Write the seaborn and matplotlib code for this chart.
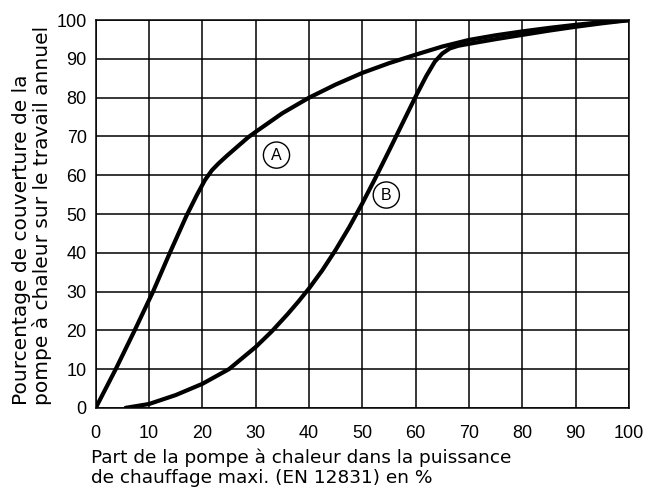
import matplotlib
matplotlib.use("Agg")
import matplotlib.pyplot as plt
import seaborn as sns
import pandas as pd

# curve A
A_X = [0, 3.75, 7.3, 10.75, 13.9, 17, 19, 20.5, 21.8, 23, 24.5, 26.5, 28.6, 30, 35, 40, 45, 50, 55, 60, 65, 70, 75, 80, 85, 90, 95, 100]
A_Y = [0, 10, 20, 30, 40, 49.5, 55, 58.8, 61.3, 63, 64.9, 67.3, 69.8, 71.2, 76, 80, 83.4, 86.4, 88.9, 91.1, 93.2, 94.9, 96.1, 97.1, 98, 98.8, 99.5, 100]

# curve B
B_X = [5.6, 10, 15, 20, 25, 30, 33, 36, 38, 40, 42.5, 45, 47.5, 50, 52.5, 55, 57.5, 60, 62, 63.6, 65, 66.4, 68, 70, 75, 80, 85, 90, 95, 100]
B_Y = [0, 1, 3.3, 6.2, 10, 15.7, 19.7, 24.2, 27.4, 30.8, 35.5, 40.75, 46.5, 52.75, 59.4, 66.3, 73.3, 80.3, 85.6, 89.3, 91.4, 92.7, 93.4, 93.9, 95.1, 96.2, 97.3, 98.3, 99.2, 100]

TICKS = list(range(0, 101, 10))
YLABEL = "Pourcentage de couverture de la\npompe à chaleur sur le travail annuel"
XLABEL = "Part de la pompe à chaleur dans la puissance\nde chauffage maxi. (EN 12831) en %"

df = pd.concat([
  pd.DataFrame({"x": A_X, "y": A_Y, "curve": "A"}),
  pd.DataFrame({"x": B_X, "y": B_Y, "curve": "B"}),
])

sns.set_style("white")
plt.rcParams["font.family"] = ["Liberation Sans", "DejaVu Sans"]
plt.rcParams["text.color"] = "black"

fig = plt.figure(figsize=(6.47, 4.92), dpi=100)
ax = fig.add_axes([0.148, 0.171, 0.824, 0.788])

sns.lineplot(data=df, x="x", y="y", hue="curve", palette=["black", "black"],
             linewidth=3.0, legend=False, sort=False, estimator=None, ax=ax,
             solid_capstyle="round", solid_joinstyle="round", zorder=3)

ax.set_xlim(0, 100)
ax.set_ylim(0, 100)
ax.set_xticks(TICKS)
ax.set_yticks(TICKS)
ax.grid(True, color="black", linewidth=1.1)
ax.set_axisbelow(True)
for s in ax.spines.values():
  s.set_color("black")
  s.set_linewidth(1.1)
ax.tick_params(length=0, labelsize=13, colors="black", labelcolor="black")
ax.tick_params(axis="x", pad=12)
ax.tick_params(axis="y", pad=6.5)
ax.set_xlabel("")
ax.set_ylabel("")

fig.text(0.141, 0.088, XLABEL, ha="left", va="top", fontsize=13.3, linespacing=1.1,
         color="black", family=["DejaVu Sans"])
fig.text(0.05, 0.176, YLABEL, ha="center", va="bottom", rotation=90, fontsize=14.5,
         linespacing=1.05, multialignment="left", color="black", family=["DejaVu Sans"])

circ = dict(boxstyle="circle,pad=0.35", fc="white", ec="black", lw=1)
ax.text(33.9, 65.2, "A", ha="center", va="center", fontsize=11.5, color="black", bbox=circ, zorder=4)
ax.text(54.5, 54.9, "B", ha="center", va="center", fontsize=11.5, color="black", bbox=circ, zorder=4)

fig.savefig("out.png", dpi=100)
